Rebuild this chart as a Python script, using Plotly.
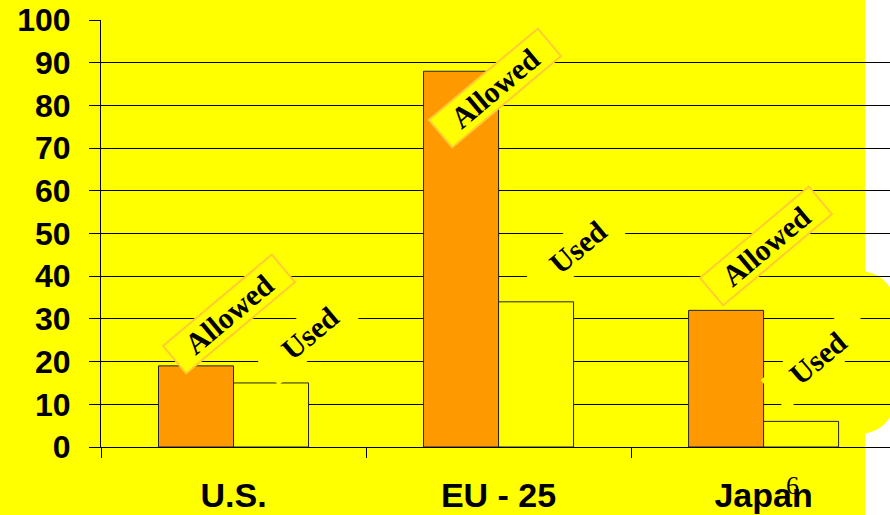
import plotly.graph_objects as go

# Chart data
regions = ["U.S.", "EU - 25", "Japan"]
allowed = [19, 88, 32]
used = [15, 34, 6]
y_ticks = [0, 10, 20, 30, 40, 50, 60, 70, 80, 90, 100]

YELLOW = "#FFFF00"
ORANGE = "#FF9900"
GOLD = "#FFCC33"

W, H = 890, 515
PL, PR, PT, PB = 101, 890, 20, 447  # plot area in pixels


def fx(px):
    return (px - PL) / (PR - PL)


def fy(py):
    return (PB - py) / (PB - PT)


fig = go.Figure()
fig.add_trace(go.Bar(x=regions, y=allowed, name="Allowed",
                     marker=dict(color=ORANGE, line=dict(color="#222222", width=1))))
fig.add_trace(go.Bar(x=regions, y=used, name="Used",
                     marker=dict(color=YELLOW, line=dict(color="#222222", width=1))))

# slide background: yellow panel with a rounded bulge on the right edge
shapes = [
    dict(type="rect", xref="paper", yref="paper", layer="below",
         x0=fx(-5), x1=fx(865), y0=fy(520), y1=fy(-5),
         fillcolor=YELLOW, line=dict(width=0)),
    dict(type="path", xref="paper", yref="paper", layer="below",
         path=(f"M {fx(862)},{fy(271)} Q {fx(888)},{fy(274)} {fx(895)},{fy(300)} "
               f"L {fx(895)},{fy(405)} Q {fx(888)},{fy(431)} {fx(862)},{fy(434)} Z"),
         fillcolor=YELLOW, line=dict(width=0)),
]

label_font = dict(family="Liberation Serif", size=30, color="black", weight="bold")
annotations = []
# "Allowed" tags (boxed) and "Used" tags (plain yellow patch)
allowed_pos = [(229, 314), (495, 88), (766, 246)]
used_pos = [(310, 333), (578, 247), (818, 358)]
for (px, py) in allowed_pos:
    annotations.append(dict(
        text="Allowed", xref="paper", yref="paper", x=fx(px), y=fy(py),
        xanchor="center", yanchor="middle", showarrow=False, textangle=-40,
        font=label_font, bgcolor=YELLOW, bordercolor=GOLD, borderwidth=2,
        borderpad=0, width=140, height=34))
for (px, py) in used_pos:
    annotations.append(dict(
        text="Used", xref="paper", yref="paper", x=fx(px), y=fy(py),
        xanchor="center", yanchor="middle", showarrow=False, textangle=-40,
        font=label_font, bgcolor=YELLOW, borderwidth=0,
        borderpad=2, width=112, height=36))

# slide number
annotations.append(dict(
    text="6", xref="paper", yref="paper", x=fx(792), y=fy(485),
    xanchor="center", yanchor="middle", showarrow=False,
    font=dict(family="Liberation Serif", size=26, color="black")))

fig.update_layout(
    width=W, height=H,
    margin=dict(l=PL, r=W - PR, t=PT, b=H - PB, autoexpand=False),
    paper_bgcolor="white",
    plot_bgcolor="rgba(0,0,0,0)",
    barmode="group", bargap=0.434, bargroupgap=0,
    showlegend=False,
    shapes=shapes,
    annotations=annotations,
    xaxis=dict(
        type="category", range=[-0.5, 2.477], automargin=False,
        tickson="boundaries", ticks="outside", ticklen=10, tickcolor="black",
        tickwidth=1, showline=True, linecolor="black", linewidth=1,
        showgrid=False, zeroline=False, ticklabelstandoff=18,
        tickfont=dict(family="Liberation Sans", size=34, color="black", weight="bold"),
    ),
    yaxis=dict(
        range=[0, 100], tickvals=y_ticks, ticks="outside", ticklen=11,
        automargin=False,
        tickcolor="black", tickwidth=1, showline=True, linecolor="black",
        linewidth=1, showgrid=True, gridcolor="black", gridwidth=1,
        zeroline=False, ticklabelstandoff=12,
        tickfont=dict(family="Liberation Sans", size=32, color="black", weight="bold"),
    ),
)

fig.write_html("out.html")
